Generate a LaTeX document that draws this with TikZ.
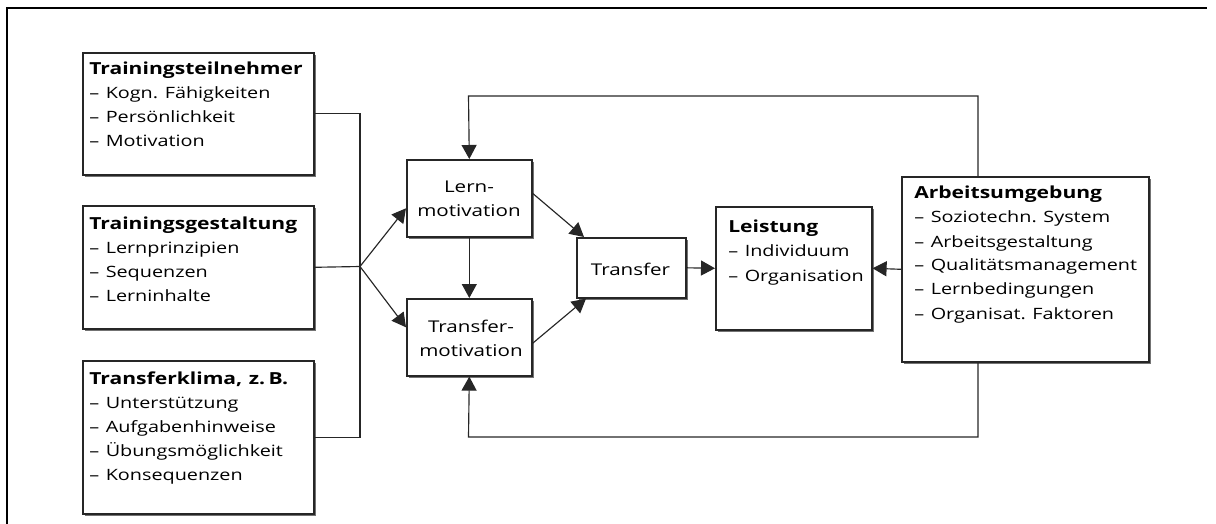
\documentclass[tikz,border=0pt]{standalone}
\usepackage{fontspec}
\setmainfont{Open Sans}
\usetikzlibrary{arrows.meta,shadows,calc}
\newcommand\hdr[1]{{\fontsize{16.6}{24}\selectfont\bfseries #1}}
\frenchspacing
\begin{document}
\begin{tikzpicture}[x=1pt,y=-1pt,
  box/.style={draw=black!85,line width=1.6pt,fill=white,anchor=north west,inner sep=0pt,
    drop shadow={shadow xshift=2.5pt,shadow yshift=-2.5pt,fill=black!55,opacity=1}},
  txt/.style={anchor=base west,inner sep=0pt,align=left,text width=190pt,xscale=1.27,
    font=\fontsize{15.6}{24}\selectfont},
  ctxt/.style={anchor=base,inner sep=0pt,align=center,text width=90pt,xscale=1.27,
    font=\fontsize{16.2}{24.5}\selectfont},
  conn/.style={line width=1.15pt,draw=black!85},
  arr/.style={conn,-{Triangle[length=14pt,width=15pt]}},
  frameline/.style={line width=2.7pt}]
\useasboundingbox (0,0) rectangle (1216,524);
\draw[frameline] (7,524) -- (7,8) -- (1207,8);

% boxes
\node[box,minimum width=231pt,minimum height=122pt] (tn) at (82,52) {};
\node[box,minimum width=231pt,minimum height=123pt] (tg) at (82,205) {};
\node[box,minimum width=231pt,minimum height=153pt] (tk) at (82,360) {};
\node[box,minimum width=125pt,minimum height=77pt] (lm) at (406,159) {};
\node[box,minimum width=125pt,minimum height=77pt] (tm) at (406,298) {};
\node[box,minimum width=109pt,minimum height=60pt] (tr) at (576,237) {};
\node[box,minimum width=156pt,minimum height=123pt] (le) at (715,206) {};
\node[box,minimum width=247pt,minimum height=185pt] (au) at (901,176) {};

% texts
\node[txt] (tnt) at (89,74.5) {\hdr{Trainingsteilnehmer}\\– Kogn. Fähigkeiten\\– Persönlichkeit\\– Motivation};
\node[txt] (tgt) at (89,229.5) {\hdr{Trainingsgestaltung}\\– Lernprinzipien\\– Sequenzen\\– Lerninhalte};
\node[txt] (tkt) at (89,384.5) {\hdr{Transferklima, z.\,B.}\\– Unterstützung\\– Aufgabenhinweise\\– Übungsmöglichkeit\\– Konsequenzen};
\node[ctxt] (lmt) at (469,192.5) {Lern-\\motivation};
\node[ctxt] (tmt) at (471,332) {Transfer-\\motivation};
\node[ctxt] (trt) at (630.5,275) {Transfer};
\node[txt] (let) at (728,233) {\hdr{Leistung}\\– Individuum\\– Organisation};
\node[txt] (aut) at (914,199) {\hdr{Arbeitsumgebung}\\– Soziotechn. System\\– Arbeitsgestaltung\\– Qualitätsmanagement\\– Lernbedingungen\\– Organisat. Faktoren};

% connectors
\coordinate (j) at (360,266.5);
\draw[conn] (tn.east) -| (j);
\draw[conn] (tk.east) -| (j);
\draw[conn] (tg.east) -- (j);
\draw[arr] (j) -- ($(lm.west)+(0,10)$);
\draw[arr] (j) -- ($(tm.west)+(0,-10)$);
\draw[arr] (lm.south) -- (tm.north);
\draw[arr] ($(lm.east)+(0,-5)$) -- ($(tr.north west)+(8,0)$);
\draw[arr] ($(tm.east)+(0,6)$) -- ($(tr.south west)+(10,0)$);
\draw[arr] (tr.east) -- (le.west);
\draw[arr] (au.west) -- (le.east);
\coordinate (t1) at (978,96);
\coordinate (t2) at (468.5,96);
\coordinate (b1) at (978,437);
\coordinate (b2) at (468.5,437);
\draw[arr] (au.north -| t1) -- (t1) -- (t2) -- (lm.north);
\draw[arr] (au.south -| b1) -- (b1) -- (b2) -- (tm.south);
\end{tikzpicture}
\end{document}
